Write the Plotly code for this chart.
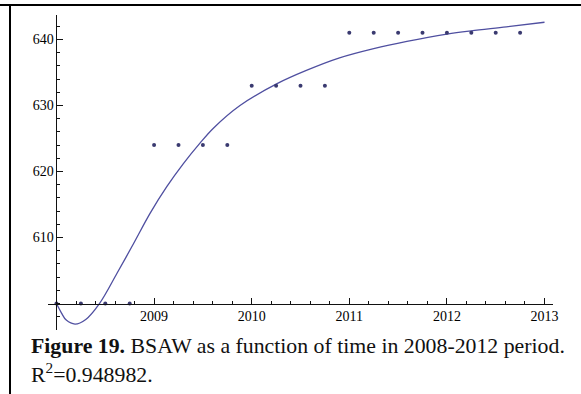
import plotly.graph_objects as go

# Quarterly BSAW observations, 2008-2012
data_years = [2008.0, 2008.25, 2008.5, 2008.75,
              2009.0, 2009.25, 2009.5, 2009.75,
              2010.0, 2010.25, 2010.5, 2010.75,
              2011.0, 2011.25, 2011.5, 2011.75,
              2012.0, 2012.25, 2012.5, 2012.75]
data_values = [600, 600, 600, 600,
               624, 624, 624, 624,
               633, 633, 633, 633,
               641, 641, 641, 641,
               641, 641, 641, 641]

# Fitted model curve (R^2 = 0.948982)
fit_years = [2008.0, 2008.05, 2008.1, 2008.19, 2008.3, 2008.44, 2008.62,
             2008.79, 2008.96, 2009.13, 2009.3, 2009.47, 2009.61, 2009.88,
             2010.26, 2010.56, 2010.9, 2011.25, 2011.59, 2012.0, 2012.25,
             2012.61, 2013.0]
fit_values = [600.0, 598.6, 597.5, 596.9, 597.6, 600.0, 604.6,
              609.1, 613.7, 617.7, 621.2, 624.3, 626.6, 630.0,
              633.3, 635.3, 637.2, 638.6, 639.7, 640.8, 641.3,
              641.9, 642.6]

x_tick_vals = [2009, 2010, 2011, 2012, 2013]
x_tick_text = ["2009", "2010", "2011", "2012", "2013"]
y_tick_vals = [610, 620, 630, 640]
y_tick_text = ["610", "620", "630", "640"]

caption_line1 = "<b>Figure 19.</b> BSAW as a function of time in 2008-2012 period."
caption_line2 = "R<sup>2</sup>=0.948982."

W, H = 581, 394
ML, MR, MT, MB = 48, 28, 15, 64
x_range = [2007.913, 2013.087]
y_range = [596.0, 643.7]
x_origin, y_origin = 2008, 600

plot_w = W - ML - MR
plot_h = H - MT - MB


def px_to_paper_x(px):
    return (px - ML) / plot_w


def px_to_paper_y(py):
    return (H - MB - py) / plot_h


tick_font = dict(family="Liberation Serif", size=14, color="#000000")
curve_color = "#4f4fa0"
dot_color = "#3a3a70"

fig = go.Figure()
fig.add_trace(go.Scatter(
    x=fit_years, y=fit_values, mode="lines",
    line=dict(color=curve_color, width=1.3, shape="spline", smoothing=1.0),
    hoverinfo="skip", showlegend=False,
))
fig.add_trace(go.Scatter(
    x=data_years, y=data_values, mode="markers",
    marker=dict(color=dot_color, size=4),
    cliponaxis=False, showlegend=False,
))

fig.update_layout(
    width=W, height=H,
    margin=dict(l=ML, r=MR, t=MT, b=MB, pad=0),
    paper_bgcolor="white", plot_bgcolor="white",
    showlegend=False,
    xaxis=dict(
        range=x_range, showgrid=False, zeroline=False,
        showline=True, linecolor="#111111", linewidth=1,
        anchor="free",
        position=(y_origin - y_range[0]) / (y_range[1] - y_range[0]),
        tickmode="array", tickvals=x_tick_vals, ticktext=x_tick_text,
        ticks="inside", ticklen=6, tickwidth=1, tickcolor="#111111",
        minor=dict(tickmode="linear", tick0=2008, dtick=0.2,
                   ticks="inside", ticklen=3, tickwidth=1, tickcolor="#111111"),
        tickfont=tick_font,
    ),
    yaxis=dict(
        range=y_range, showgrid=False, zeroline=False,
        showline=True, linecolor="#111111", linewidth=1,
        anchor="free",
        position=(x_origin - x_range[0]) / (x_range[1] - x_range[0]),
        tickmode="array", tickvals=y_tick_vals, ticktext=y_tick_text,
        ticks="inside", ticklen=6, tickwidth=1, tickcolor="#111111",
        minor=dict(tickmode="linear", tick0=596, dtick=2,
                   ticks="inside", ticklen=3, tickwidth=1, tickcolor="#111111"),
        tickfont=tick_font,
    ),
)

# Frame lines along the top and left edges
fig.add_shape(type="line", xref="paper", yref="paper",
              x0=px_to_paper_x(0), x1=px_to_paper_x(W),
              y0=px_to_paper_y(5), y1=px_to_paper_y(5),
              line=dict(color="black", width=2))
fig.add_shape(type="line", xref="paper", yref="paper",
              x0=px_to_paper_x(10), x1=px_to_paper_x(10),
              y0=px_to_paper_y(4), y1=px_to_paper_y(H),
              line=dict(color="black", width=2))

caption_font = dict(family="Liberation Serif", size=21.8, color="#111111")
fig.add_annotation(text=caption_line1, xref="paper", yref="paper",
                   x=px_to_paper_x(29), y=px_to_paper_y(332),
                   xanchor="left", yanchor="top", showarrow=False,
                   font=caption_font)
fig.add_annotation(text=caption_line2, xref="paper", yref="paper",
                   x=px_to_paper_x(29), y=px_to_paper_y(357),
                   xanchor="left", yanchor="top", showarrow=False,
                   font=caption_font)

fig.write_html("out.html")
